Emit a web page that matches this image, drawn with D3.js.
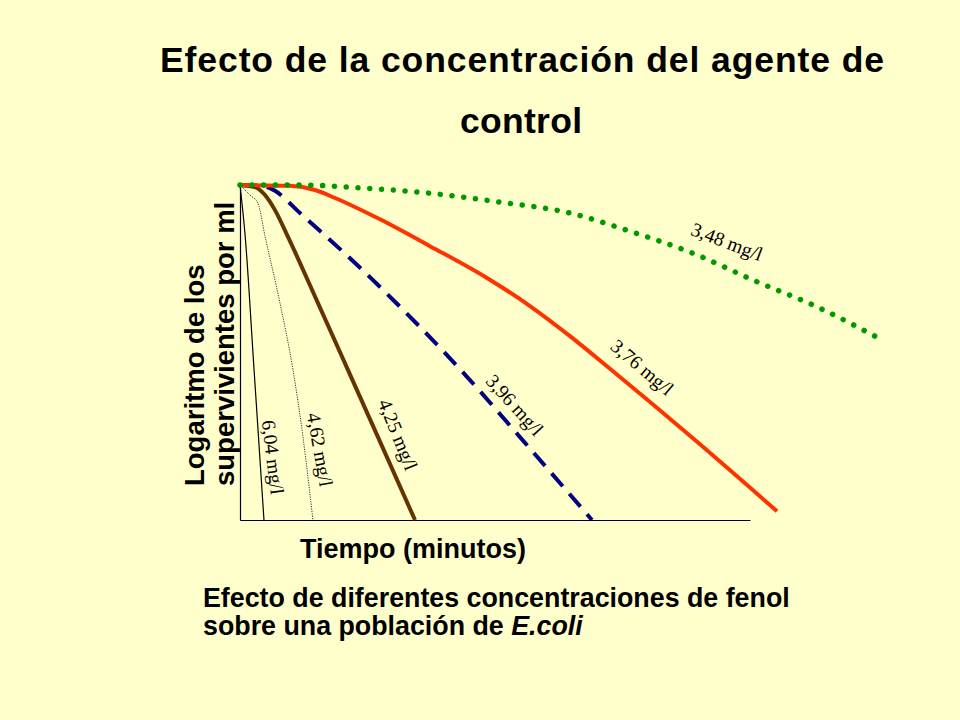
<!DOCTYPE html>
<html>
<head>
<meta charset="utf-8">
<script src="https://cdn.jsdelivr.net/npm/d3@7"></script>
<style>
  html, body { margin: 0; padding: 0; background: #FFFFCC; }
  svg { display: block; }
</style>
</head>
<body>
<div id="chart"></div>
<script>
////////////////////////////// DATA ///////////////////////////////////////////
// time in arbitrary minutes, survivors as log units (no ticks in the original)
var concLabels = ['6,04 mg/l', '4,62 mg/l', '4,25 mg/l', '3,96 mg/l', '3,76 mg/l', '3,48 mg/l'];

var curve604 = [[0, 8], [1, 6.8], [2.75, 3.6], [4.7, 0]];
var curve462 = [[0, 8], [1.96, 7.76], [3.5, 7.57], [4.9, 6.78], [7.84, 5.18],
                [10.4, 3.58], [12.35, 1.98], [14.3, 0]];
var curve425 = [[0, 8], [2.9, 7.95], [4.9, 7.76], [6.86, 7.4], [9.41, 6.76],
                [15.29, 5.18], [21.18, 3.58], [27.06, 1.98], [34.31, 0]];
var curve396 = [[0, 8], [4.31, 7.98], [6.86, 7.86], [11.76, 7.33], [21.57, 6.25],
                [35.29, 4.61], [44.51, 3.42], [54.9, 1.98], [69.02, 0]];
var curve376 = [[0, 8], [9.8, 7.98], [14.71, 7.88], [18.63, 7.69], [27.45, 7.18],
                [37.25, 6.54], [48.43, 5.78], [56.86, 5.11], [64.71, 4.39],
                [72.55, 3.61], [88.24, 2.01], [105.29, 0.21]];
var curve348 = [[0, 8], [11.76, 8], [23.53, 7.93], [36.67, 7.81], [50.98, 7.59],
                [64.71, 7.33], [75.88, 6.92], [89.61, 6.33], [100.59, 5.73],
                [113.14, 5.09], [125.88, 4.3]];

// where each concentration label sits along its curve [time, log], and its tilt
var labelPos = [[6.5, 1.5], [15.7, 1.68], [31.0, 2.04], [53.9, 2.75], [78.9, 3.65], [95.5, 6.65]];
var labelTilt = [83, 80, 68, 48, 40, 21];

var titleLines = ['Efecto de la concentración del agente de', 'control'];
var yLabelLines = ['Logaritmo de los', 'supervivientes por ml'];
var xLabel = 'Tiempo (minutos)';
////////////////////////////////////////////////////////////////////////////////

var width = 960,
    height = 720;

var svg = d3.select('#chart')
  .append('svg')
    .attr('width', width)
    .attr('height', height);

svg.append('rect')
  .attr('width', width)
  .attr('height', height)
  .style('fill', '#FFFFCC');

var x = d3.scaleLinear().domain([0, 100]).range([240, 750]),
    y = d3.scaleLinear().domain([0, 8]).range([520, 185]);

var line = d3.line()
  .x(function(d) { return x(d[0]); })
  .y(function(d) { return y(d[1]); })
  .curve(d3.curveMonotoneX);

// title
svg.append('text')
  .attr('x', 160)
  .attr('y', 72)
  .attr('textLength', 724)
  .attr('lengthAdjust', 'spacing')
  .style('font', 'bold 35.5px "Liberation Sans", Arial, sans-serif')
  .text(titleLines[0]);
svg.append('text')
  .attr('x', 460)
  .attr('y', 133)
  .attr('textLength', 122)
  .attr('lengthAdjust', 'spacing')
  .style('font', 'bold 35.5px "Liberation Sans", Arial, sans-serif')
  .text(titleLines[1]);

// axes: plain lines, no ticks
svg.append('g')
  .attr('transform', 'translate(0,' + y(0) + ')')
  .call(d3.axisBottom(x).ticks(0).tickSize(0))
  .call(function(g) { g.select('.domain').attr('stroke', '#000').attr('stroke-width', 1.2); });
svg.append('g')
  .attr('transform', 'translate(' + x(0) + ',0)')
  .call(d3.axisLeft(y).ticks(0).tickSize(0))
  .call(function(g) { g.select('.domain').attr('stroke', '#000').attr('stroke-width', 1.2); });

// curves, drawn weakest phenol last so the green dots sit on top
var series = [
  {data: curve604, color: '#000000', w: 1.2, dash: null, cap: 'butt'},
  {data: curve462, color: '#333333', w: 1, dash: '1.2 1.2', cap: 'butt'},
  {data: curve425, color: '#663300', w: 4, dash: null, cap: 'butt'},
  {data: curve396, color: '#000080', w: 4, dash: '17 10', cap: 'butt'},
  {data: curve376, color: '#FF3300', w: 4, dash: null, cap: 'butt'},
  {data: curve348, color: '#009900', w: 5.5, dash: '0.1 11.7', cap: 'round'}
];

svg.selectAll('path.curve')
  .data(series)
  .enter()
    .append('path')
      .attr('class', 'curve')
      .attr('d', function(d) { return line(d.data); })
      .style('fill', 'none')
      .style('stroke', function(d) { return d.color; })
      .style('stroke-width', function(d) { return d.w; })
      .style('stroke-dasharray', function(d) { return d.dash; })
      .style('stroke-linecap', function(d) { return d.cap; });

// concentration labels
svg.selectAll('text.conc')
  .data(concLabels)
  .enter()
    .append('text')
      .attr('class', 'conc')
      .attr('transform', function(d, i) {
        return 'translate(' + x(labelPos[i][0]) + ',' + y(labelPos[i][1]) + ') rotate(' + labelTilt[i] + ')';
      })
      .attr('text-anchor', 'middle')
      .attr('dy', '0.35em')
      .style('font', '19.5px "Liberation Serif", "Times New Roman", serif')
      .text(function(d) { return d; });

// y axis label, two lines turned up
var yLab = svg.append('text')
  .attr('transform', 'translate(0,486) rotate(-90)')
  .style('font', 'bold 27.5px "Liberation Sans", Arial, sans-serif');
yLab.selectAll('tspan')
  .data(yLabelLines)
  .enter()
    .append('tspan')
      .attr('x', 0)
      .attr('y', function(d, i) { return 204 + i * 30; })
      .text(function(d) { return d; });

// x axis label
svg.append('text')
  .attr('x', 300)
  .attr('y', 558)
  .style('font', 'bold 27px "Liberation Sans", Arial, sans-serif')
  .text(xLabel);

// caption
svg.append('text')
  .attr('x', 203)
  .attr('y', 607)
  .style('font', 'bold 26.8px "Liberation Sans", Arial, sans-serif')
  .text('Efecto de diferentes concentraciones de fenol');
var cap2 = svg.append('text')
  .attr('x', 203)
  .attr('y', 635)
  .style('font', 'bold 26.8px "Liberation Sans", Arial, sans-serif');
cap2.append('tspan').text('sobre una población de ');
cap2.append('tspan').style('font-style', 'italic').text('E.coli');
</script>
</body>
</html>
